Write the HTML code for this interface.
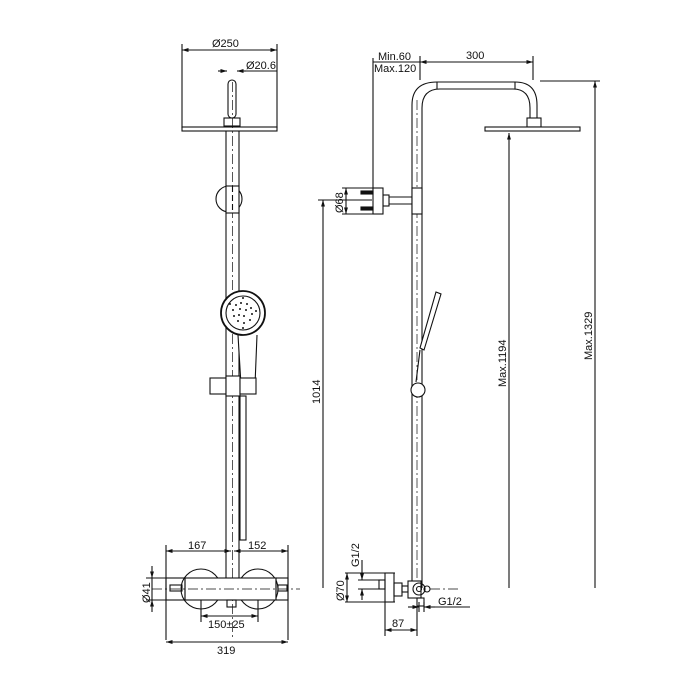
<!DOCTYPE html>
<html><head><meta charset="utf-8"><style>html,body{margin:0;background:#fff}svg{display:block}text{font-family:"Liberation Sans",sans-serif;font-size:11px;fill:#111}</style></head><body>
<svg width="700" height="700" viewBox="0 0 700 700" xmlns="http://www.w3.org/2000/svg">
<defs><marker id="a" viewBox="0 0 10 10" refX="10" refY="5" markerWidth="6" markerHeight="6" orient="auto-start-reverse"><path d="M0,2L10,5L0,8z" fill="#111"/></marker></defs>
<g stroke="#111" stroke-width="1.1" fill="none">
<!-- LEFT VIEW -->
<line x1="182" y1="44" x2="182" y2="128"/><line x1="277" y1="44" x2="277" y2="128"/>
<line x1="182" y1="50" x2="277" y2="50" marker-start="url(#a)" marker-end="url(#a)"/>
<line x1="218" y1="71" x2="227" y2="71" marker-end="url(#a)"/><line x1="246" y1="71" x2="237" y2="71" marker-end="url(#a)"/><line x1="237" y1="71" x2="277" y2="71"/>
<rect x="228" y="80" width="8" height="38" rx="4"/>
<rect x="224" y="118" width="16" height="8"/>
<rect x="182" y="127" width="95" height="4" fill="#fff"/>
<line x1="226" y1="131" x2="226" y2="580"/><line x1="239" y1="131" x2="239" y2="580"/>
<line x1="232.5" y1="82" x2="232.5" y2="640" stroke-dasharray="10,3,2,3" stroke-width="0.7"/>
<circle cx="229" cy="199" r="13" fill="#fff"/><rect x="226" y="186" width="13" height="27" fill="#fff"/>
<line x1="232.5" y1="186" x2="232.5" y2="213" stroke-dasharray="6,3"/>
<path d="M238,335 L241,385 L255,385 L257,335" fill="#fff"/>
<circle cx="243" cy="313" r="22" fill="#fff" stroke-width="1.8"/>
<circle cx="243" cy="313" r="17"/>
<rect x="210" y="378" width="16" height="16" fill="#fff"/><rect x="226" y="376" width="14" height="20" fill="#fff"/><rect x="240" y="378" width="16" height="16" fill="#fff"/>
<rect x="240" y="396" width="6" height="144"/>
<!-- mixer -->
<line x1="166" y1="545" x2="166" y2="640"/><line x1="288" y1="545" x2="288" y2="640"/>
<line x1="166" y1="551" x2="231" y2="551" marker-start="url(#a)" marker-end="url(#a)"/><line x1="234" y1="551" x2="288" y2="551" marker-start="url(#a)" marker-end="url(#a)"/>
<circle cx="201" cy="589" r="20" fill="#fff"/><circle cx="258" cy="589" r="20" fill="#fff"/>
<rect x="185" y="578" width="91" height="22" fill="#fff"/>
<rect x="166" y="578" width="19" height="22"/><rect x="276" y="578" width="12" height="22"/>
<rect x="170" y="585" width="12" height="6"/><rect x="278" y="585" width="9" height="6"/>
<rect x="227" y="600" width="9" height="7"/>
<line x1="152" y1="589" x2="300" y2="589" stroke-dasharray="10,3,2,3" stroke-width="0.7"/>
<line x1="146" y1="578" x2="166" y2="578"/><line x1="146" y1="600" x2="166" y2="600"/>
<line x1="152" y1="566" x2="152" y2="578" marker-end="url(#a)"/><line x1="152" y1="612" x2="152" y2="600" marker-end="url(#a)"/><line x1="152" y1="578" x2="152" y2="600"/>
<line x1="201" y1="600" x2="201" y2="622"/><line x1="258" y1="600" x2="258" y2="622"/>
<line x1="201" y1="616" x2="258" y2="616" marker-start="url(#a)" marker-end="url(#a)"/>
<line x1="166" y1="642" x2="288" y2="642" marker-start="url(#a)" marker-end="url(#a)"/>
<!-- RIGHT VIEW -->
<path d="M412,588 L412,105 Q412,82 437,82 L515,82 Q537,82 537,105 L537,118"/>
<path d="M422,588 L422,108 Q422,89 440,89 L513,89 Q530,89 530,108 L530,118"/>
<line x1="437" y1="82" x2="437" y2="89"/><line x1="515" y1="82" x2="515" y2="89"/>
<line x1="417" y1="100" x2="417" y2="588" stroke-dasharray="10,3,2,3" stroke-width="0.7"/>
<rect x="527" y="118" width="14" height="9"/>
<rect x="485" y="127" width="95" height="4" fill="#fff"/>
<line x1="373" y1="58" x2="373" y2="190"/><line x1="420" y1="56" x2="420" y2="80"/><line x1="533" y1="56" x2="533" y2="80"/>
<line x1="373" y1="62" x2="533" y2="62"/><line x1="420" y1="62" x2="533" y2="62" marker-start="url(#a)" marker-end="url(#a)"/>
<line x1="540" y1="81" x2="600" y2="81"/>
<line x1="595" y1="588" x2="595" y2="81" marker-end="url(#a)"/>
<line x1="509" y1="588" x2="509" y2="133" marker-end="url(#a)"/>
<line x1="323" y1="588" x2="323" y2="200" marker-end="url(#a)"/><line x1="318" y1="200" x2="372" y2="200"/>
<!-- wall bracket -->
<rect x="412" y="188" width="10" height="26" fill="#fff"/>
<rect x="383" y="195" width="6" height="11"/><line x1="389" y1="197" x2="412" y2="197"/><line x1="389" y1="204" x2="412" y2="204"/>
<rect x="373" y="188" width="10" height="26" fill="#fff"/>
<rect x="361" y="191" width="12" height="3" fill="#111"/><rect x="361" y="207" width="12" height="3" fill="#111"/>
<line x1="342" y1="188" x2="373" y2="188"/><line x1="342" y1="214" x2="373" y2="214"/>
<line x1="346" y1="188" x2="346" y2="214" marker-start="url(#a)" marker-end="url(#a)"/>
<!-- handshower side -->
<path d="M436,292 L441,294 L424,350 L420,348 Z" fill="#fff"/>
<path d="M420,350 L416,382"/>
<circle cx="418" cy="390" r="7" fill="#fff"/>
<!-- bottom connector -->
<line x1="345" y1="573" x2="395" y2="573"/><line x1="345" y1="602" x2="395" y2="602"/>
<rect x="385" y="573" width="9" height="29" fill="#fff"/>
<rect x="379" y="580" width="6" height="9"/>
<line x1="358" y1="580" x2="379" y2="580"/><line x1="358" y1="589" x2="379" y2="589"/>
<line x1="362" y1="560" x2="362" y2="580" marker-end="url(#a)"/><line x1="362" y1="600" x2="362" y2="589" marker-end="url(#a)"/>
<line x1="347" y1="573" x2="347" y2="602" marker-start="url(#a)" marker-end="url(#a)"/>
<rect x="394" y="583" width="8" height="13"/><rect x="402" y="586" width="6" height="6"/>
<rect x="408" y="581" width="13" height="17" fill="#fff"/>
<circle cx="419" cy="589" r="6"/><circle cx="419" cy="589" r="2.5"/><circle cx="427" cy="589" r="3"/>
<rect x="417" y="598" width="7" height="8"/>
<line x1="419" y1="602" x2="419" y2="612"/><line x1="424" y1="602" x2="424" y2="612"/>
<line x1="408" y1="607" x2="419" y2="607" marker-end="url(#a)"/><line x1="435" y1="607" x2="424" y2="607" marker-end="url(#a)"/><line x1="424" y1="607" x2="470" y2="607"/>
<line x1="430" y1="589" x2="460" y2="589" stroke-dasharray="10,3,2,3" stroke-width="0.7"/>
<line x1="385" y1="602" x2="385" y2="636"/><line x1="417" y1="606" x2="417" y2="636"/>
<line x1="385" y1="630" x2="417" y2="630" marker-start="url(#a)" marker-end="url(#a)"/>
</g>
<g fill="#111">
<circle cx="236" cy="305" r="1"/><circle cx="241" cy="303" r="1"/><circle cx="247" cy="304" r="1"/><circle cx="251" cy="308" r="1"/><circle cx="252" cy="314" r="1"/><circle cx="250" cy="320" r="1"/><circle cx="244" cy="323" r="1"/><circle cx="238" cy="321" r="1"/><circle cx="234" cy="316" r="1"/><circle cx="233" cy="310" r="1"/><circle cx="240" cy="309" r="1"/><circle cx="246" cy="310" r="1"/><circle cx="244" cy="316" r="1"/><circle cx="239" cy="315" r="1"/><circle cx="230" cy="304" r="1"/><circle cx="256" cy="311" r="1"/><circle cx="243" cy="298" r="1"/><circle cx="243" cy="328" r="1"/>
</g>
<text x="212" y="47">Ø250</text>
<text x="246" y="69">Ø20.6</text>
<text x="378" y="60">Min.60</text>
<text x="374" y="72">Max.120</text>
<text x="466" y="59">300</text>
<text x="188" y="549">167</text>
<text x="248" y="549">152</text>
<text x="208" y="628">150±25</text>
<text x="217" y="654">319</text>
<text x="392" y="627">87</text>
<text x="438" y="605">G1/2</text>
<text transform="translate(150,603) rotate(-90)">Ø41</text>
<text transform="translate(343,213) rotate(-90)">Ø68</text>
<text transform="translate(344,601) rotate(-90)">Ø70</text>
<text transform="translate(359,567) rotate(-90)">G1/2</text>
<text transform="translate(320,404) rotate(-90)">1014</text>
<text transform="translate(506,387) rotate(-90)">Max.1194</text>
<text transform="translate(592,360) rotate(-90)">Max.1329</text>
</svg>
</body></html>
